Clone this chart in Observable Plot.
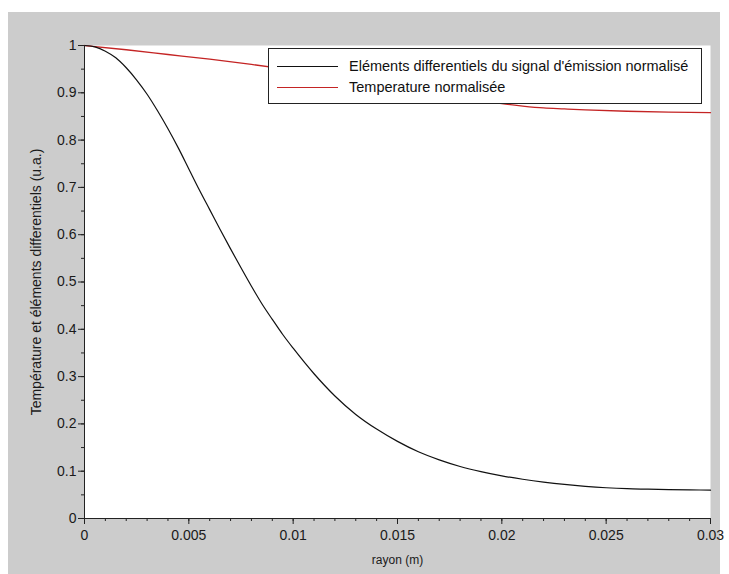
<!DOCTYPE html>
<html>
<head>
<meta charset="utf-8">
<script src="https://cdn.jsdelivr.net/npm/d3@7"></script>
<script src="https://cdn.jsdelivr.net/npm/@observablehq/plot@0.6"></script>
<style>
  html, body { margin: 0; padding: 0; background: #ffffff; }
  #wrap { position: relative; width: 729px; height: 574px; overflow: hidden; }
  #bg { position: absolute; left: 8px; top: 12px; width: 712px; height: 562px; background: #cccccc; }
  #chart { position: absolute; left: 0; top: 0; }
  #legend { position: absolute; left: 268px; top: 48px; width: 434px; height: 56px; background: #ffffff; border: 1px solid #222; box-sizing: border-box; font-family: "Liberation Sans", Arial, sans-serif; font-size: 14.5px; color: #111; }
  .sw { position: absolute; left: 8px; width: 61px; height: 0; }
  .lt { position: absolute; left: 80px; white-space: nowrap; line-height: 16px; }
</style>
</head>
<body>
<div id="wrap">
  <div id="bg"></div>
  <div id="chart"></div>
  <div id="legend"></div>
</div>
<script>
// Radius values (m)
const rayonBlack = [0, 0.0005, 0.001, 0.0015, 0.002, 0.0025, 0.003, 0.0035, 0.004, 0.0045, 0.005, 0.0055, 0.006, 0.0065, 0.007, 0.0075, 0.008, 0.0085, 0.009, 0.0095, 0.010, 0.011, 0.012, 0.013, 0.014, 0.015, 0.016, 0.017, 0.018, 0.019, 0.020, 0.021, 0.022, 0.023, 0.024, 0.025, 0.026, 0.027, 0.028, 0.029, 0.030];
// Eléments differentiels du signal d'émission normalisé
const emission = [1.0, 0.997, 0.988, 0.974, 0.953, 0.927, 0.897, 0.862, 0.824, 0.783, 0.739, 0.695, 0.653, 0.611, 0.570, 0.530, 0.491, 0.454, 0.421, 0.389, 0.360, 0.306, 0.259, 0.220, 0.189, 0.163, 0.141, 0.124, 0.110, 0.099, 0.090, 0.083, 0.077, 0.072, 0.068, 0.065, 0.063, 0.062, 0.061, 0.0605, 0.060];

const rayonRed = [0, 0.002, 0.004, 0.006, 0.008, 0.010, 0.012, 0.014, 0.016, 0.018, 0.019, 0.020, 0.021, 0.022, 0.023, 0.024, 0.026, 0.028, 0.030];
// Temperature normalisée
const temperature = [1.0, 0.991, 0.981, 0.971, 0.960, 0.948, 0.935, 0.921, 0.906, 0.892, 0.884, 0.877, 0.872, 0.868, 0.866, 0.864, 0.861, 0.859, 0.858];

const xTicks = [0, 0.005, 0.01, 0.015, 0.02, 0.025, 0.03];
const xTickLabels = ["0", "0.005", "0.01", "0.015", "0.02", "0.025", "0.03"];
const yTicks = [0, 0.1, 0.2, 0.3, 0.4, 0.5, 0.6, 0.7, 0.8, 0.9, 1];
const yTickLabels = ["0", "0.1", "0.2", "0.3", "0.4", "0.5", "0.6", "0.7", "0.8", "0.9", "1"];
const xMinor = d3.range(0, 0.03001, 0.001);
const yMinor = d3.range(0, 1.001, 0.05);

const seriesNames = ["Eléments differentiels du signal d'émission normalisé", "Temperature normalisée"];
const seriesColors = ["#111111", "#c42424"];
const xTitle = "rayon (m)";
const yTitle = "Température et éléments differentiels (u.a.)";

const blackData = rayonBlack.map((r, i) => ({r, v: emission[i]}));
const redData = rayonRed.map((r, i) => ({r, v: temperature[i]}));

const font = "'Liberation Sans', Arial, sans-serif";

const plot = Plot.plot({
  width: 729,
  height: 574,
  marginLeft: 84,
  marginRight: 19,
  marginTop: 45,
  marginBottom: 56,
  style: { background: "transparent", fontFamily: font, fontSize: "14px", color: "#222" },
  x: { domain: [0, 0.03] },
  y: { domain: [0, 1] },
  marks: [
    Plot.frame({ fill: "white", stroke: null }),
    Plot.axisX({ ticks: xMinor, tickSize: 3, text: null, label: null, stroke: "#222" }),
    Plot.axisX({ ticks: xTicks, tickSize: 6, tickPadding: 6, tickFormat: d => xTickLabels[xTicks.indexOf(d)], label: null, stroke: "#222", fill: "#1a1a1a", fontSize: 14 }),
    Plot.axisY({ ticks: yMinor, tickSize: 3, text: null, label: null, stroke: "#222" }),
    Plot.axisY({ ticks: yTicks, tickSize: 6, tickPadding: 2, tickFormat: d => yTickLabels[yTicks.indexOf(d)], label: null, stroke: "#222", fill: "#1a1a1a", fontSize: 14 }),
    Plot.line(redData, { x: "r", y: "v", stroke: seriesColors[1], strokeWidth: 1.3, curve: "monotone-x" }),
    Plot.line(blackData, { x: "r", y: "v", stroke: seriesColors[0], strokeWidth: 1.2, curve: "monotone-x" }),
    Plot.ruleX([0], { stroke: "#222" }),
    Plot.ruleY([0], { stroke: "#222" }),
    Plot.text([xTitle], { frameAnchor: "bottom", dy: 45, fontSize: 12, fill: "#1a1a1a" }),
    Plot.text([yTitle], { frameAnchor: "left", dx: -48, rotate: -90, textAnchor: "middle", fontSize: 14, fill: "#1a1a1a" })
  ]
});
document.getElementById("chart").appendChild(plot);

const legend = document.getElementById("legend");
const rowTops = [9, 30];
seriesNames.forEach((name, i) => {
  const sw = document.createElement("div");
  sw.className = "sw";
  sw.style.top = (rowTops[i] + 8) + "px";
  sw.style.borderTop = "1.5px solid " + seriesColors[i];
  legend.appendChild(sw);
  const t = document.createElement("div");
  t.className = "lt";
  t.style.top = rowTops[i] + "px";
  t.textContent = name;
  legend.appendChild(t);
});
</script>
</body>
</html>
